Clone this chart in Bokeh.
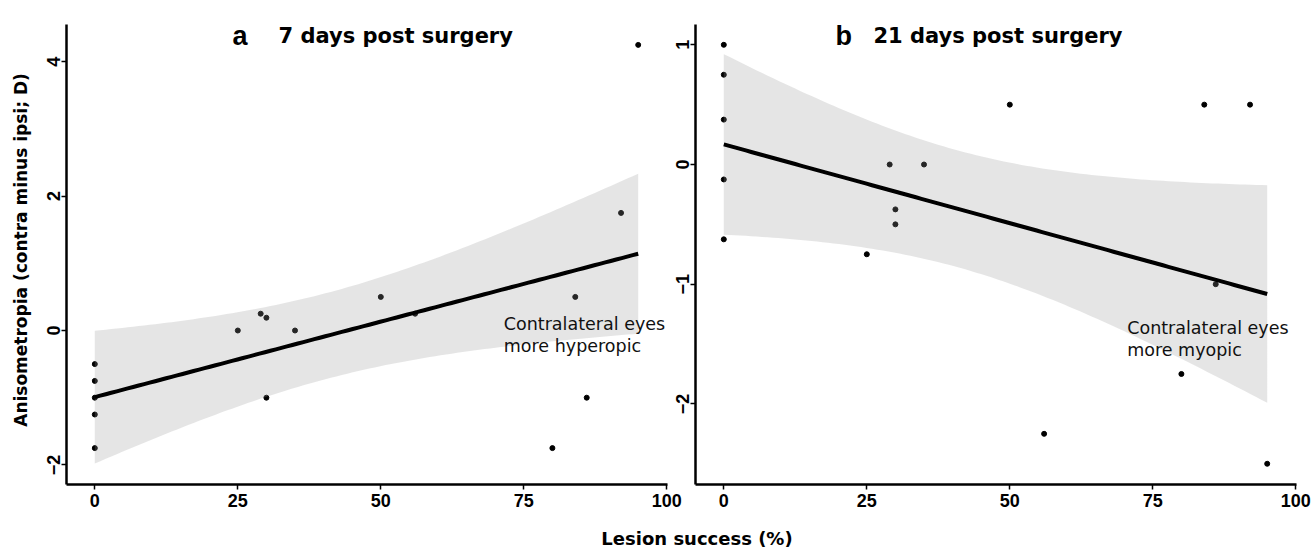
import math
import numpy as np
from bokeh.plotting import figure
from bokeh.models import LinearAxis, Range1d, FixedTicker, Grid
from bokeh.core.properties import value
from bokeh.embed import file_html
from bokeh.resources import INLINE

# ---------------- data ----------------
lesion_a = [0, 0, 0, 0, 0, 25, 29, 30, 30, 35, 50, 56, 80, 84, 86, 92, 95]
aniso_a = [-0.5, -0.75, -1.0, -1.25, -1.75, 0.0, 0.25, 0.19, -1.0, 0.0, 0.5, 0.25, -1.75, 0.5, -1.0, 1.75, 4.25]

lesion_b = [0, 0, 0, 0, 0, 25, 29, 30, 30, 35, 50, 56, 80, 84, 86, 92, 95]
aniso_b = [1.0, 0.75, 0.375, -0.125, -0.625, -0.75, 0.0, -0.375, -0.5, 0.0, 0.5, -2.25, -1.75, 0.5, -1.0, 0.5, -2.5]

x_ticks = [0, 25, 50, 75, 100]
y_ticks_a = [-2, 0, 2, 4]
y_ticks_b = [-2, -1, 0, 1]
y_tick_labels_a = ["\u22122", "0", "2", "4"]
y_tick_labels_b = ["\u22122", "\u22121", "0", "1"]

title_a = ("a", "7 days post surgery")
title_b = ("b", "21 days post surgery")
note_a = ["Contralateral eyes", "more hyperopic"]
note_b = ["Contralateral eyes", "more myopic"]
y_label = "Anisometropia (contra minus ipsi; D)"
x_label = "Lesion success (%)"

T_CRIT = 2.131  # t(0.975, df = n - 2 = 15)


def fit(x, y):
    x = np.asarray(x, float)
    y = np.asarray(y, float)
    n = len(x)
    b, a = np.polyfit(x, y, 1)
    s = np.sqrt(np.sum((y - (a + b * x)) ** 2) / (n - 2))
    xs = np.linspace(x.min(), x.max(), 100)
    yh = a + b * xs
    se = s * np.sqrt(1.0 / n + (xs - x.mean()) ** 2 / np.sum((x - x.mean()) ** 2))
    return xs, yh, yh - T_CRIT * se, yh + T_CRIT * se


# ---------------- layout geometry (canvas pixels) ----------------
W, H = 1312, 549
A = dict(x0=94.3, xu=5.72, y0=330.0, yu=67.2, left=66, right=667, top=24, bottom=484,
         letter=232, title=278, note=(503.3, 323.3))
B = dict(x0=723.3, xu=5.72, y0=164.0, yu=119.7, left=695, right=1296, top=24, bottom=484,
         letter=835, title=873, note=(1126.7, 327.3))


def dx(g, px):
    return (px - g["x0"]) / g["xu"]


def dy(g, py):
    return (g["y0"] - py) / g["yu"]


p = figure(width=W, height=H, output_backend="svg", toolbar_location=None,
           x_range=Range1d(dx(A, 0), dx(A, W)), y_range=Range1d(dy(A, H), dy(A, 0)),
           x_axis_location=None, y_axis_location=None, min_border=0,
           outline_line_color=None, background_fill_color="white")
p.extra_x_ranges = {"b": Range1d(dx(B, 0), dx(B, W))}
p.extra_y_ranges = {"b": Range1d(dy(B, H), dy(B, 0))}
for g in p.select(type=Grid):
    g.visible = False

AX_FONT = "Liberation Sans"
TXT_FONT = "DejaVu Sans"


def add_axes(g, yticks, ylabels, rn):
    kw = {} if rn is None else dict(x_range_name=rn, y_range_name=rn)
    common = dict(axis_line_width=2.5, axis_line_color="black",
                  major_tick_line_width=1.5, major_tick_line_color="black",
                  major_tick_in=0, major_tick_out=5,
                  minor_tick_line_color=None,
                  major_label_text_font=AX_FONT, major_label_text_font_style="bold",
                  major_label_text_font_size="18px", major_label_text_color="black")
    xa = LinearAxis(ticker=FixedTicker(ticks=x_ticks),
                    fixed_location=dy(g, g["bottom"]),
                    bounds=(dx(g, g["left"]), dx(g, g["right"])),
                    major_label_standoff=4, **common, **kw)
    ya = LinearAxis(ticker=FixedTicker(ticks=yticks),
                    fixed_location=dx(g, g["left"]),
                    bounds=(dy(g, g["bottom"]), dy(g, g["top"])),
                    **common, **kw)
    ya.major_label_text_color = None
    p.add_layout(xa, "below")
    p.add_layout(ya, "left")
    # rotated y tick labels (read bottom-to-top, centred on each tick)
    p.text(x=[dx(g, g["left"] - 13)] * len(yticks), y=yticks, text=ylabels,
           angle=math.pi / 2, text_font=value(AX_FONT), text_font_style="bold",
           text_font_size="18px", text_color="black",
           text_align="center", text_baseline="alphabetic", **kw)


def add_panel(g, x, y, rn, title, note):
    kw = {} if rn is None else dict(x_range_name=rn, y_range_name=rn)
    xs, yh, lo, hi = fit(x, y)
    p.scatter(x, y, size=5, color="black", **kw)
    p.varea(x=xs, y1=lo, y2=hi, fill_color="#999999", fill_alpha=0.25, **kw)
    p.line(xs, yh, line_width=4, color="black", **kw)
    # panel letter and title
    p.text(x=[dx(g, g["letter"])], y=[dy(g, 35.5)], text=[title[0]],
           text_font=value(AX_FONT), text_font_style="bold", text_font_size="27px",
           text_color="black", text_align="left", text_baseline="alphabetic", **kw)
    p.text(x=[dx(g, g["title"])], y=[dy(g, 35.5)], text=[title[1]],
           text_font=value(TXT_FONT), text_font_style="bold", text_font_size="21px",
           text_color="black", text_align="left", text_baseline="alphabetic", **kw)
    nx, ny = g["note"]
    for i, line in enumerate(note):
        p.text(x=[dx(g, nx)], y=[dy(g, ny + 22 * i)], text=[line],
               text_font=value(TXT_FONT), text_font_size="17.5px",
               text_color="#111111", text_align="left", text_baseline="alphabetic", **kw)


add_panel(A, lesion_a, aniso_a, None, title_a, note_a)
add_panel(B, lesion_b, aniso_b, "b", title_b, note_b)
add_axes(A, y_ticks_a, y_tick_labels_a, None)
add_axes(B, y_ticks_b, y_tick_labels_b, "b")

# shared axis titles
p.text(x=[dx(A, 20)], y=[dy(A, 249.5)], text=[y_label], angle=math.pi / 2,
       text_font=value(TXT_FONT), text_font_style="bold", text_font_size="17px",
       text_color="black", text_align="center", text_baseline="middle")
p.text(x=[dx(A, 696.5)], y=[dy(A, 538)], text=[x_label],
       text_font=value(TXT_FONT), text_font_style="bold", text_font_size="18px",
       text_color="black", text_align="center", text_baseline="middle")

open("out.html", "w").write(file_html(p, INLINE))
